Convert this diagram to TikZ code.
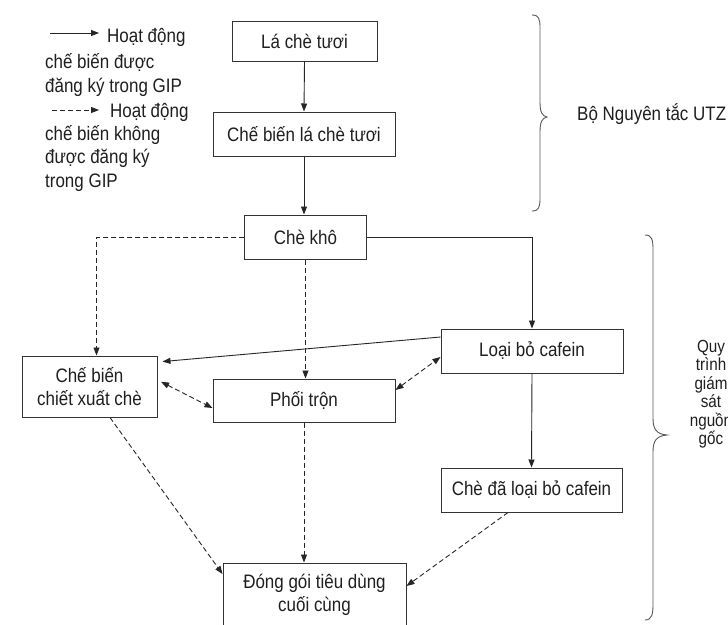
\documentclass[tikz,border=0pt]{standalone}
\usepackage{fontspec}
\setmainfont{Liberation Sans}[FakeStretch=0.87]
\usetikzlibrary{arrows.meta}
\begin{document}
\begin{tikzpicture}[x=1pt,y=-1pt,
  txt/.style={inner sep=0pt, text=black!88, font=\fontsize{19.5}{23.3}\selectfont},
  box/.style={txt, draw=black!80, line width=1pt, fill=white, align=center},
  arr/.style={line width=0.9pt, draw=black!85, -{Triangle[length=8pt,width=6pt]}},
  dsh/.style={arr, dash pattern=on 5pt off 3pt},
  dbl/.style={dsh, {Triangle[length=8pt,width=6pt]}-{Triangle[length=8pt,width=6pt]}},
  brace/.style={draw=black!65, line width=0.9pt}]
\useasboundingbox (0,0) rectangle (728,624);
\fill[white] (0,0) rectangle (728,624);
\clip (0,0) rectangle (728,624);

% boxes
\node[box, minimum width=145pt, minimum height=40pt] (la) at (304.5,41) {Lá chè tươi};
\node[box, minimum width=182pt, minimum height=44pt] (cbl) at (304,134) {Chế biến lá chè tươi};
\node[box, minimum width=122pt, minimum height=44pt] (ck) at (305.5,237) {Chè khô};
\node[box, minimum width=182pt, minimum height=44pt] (lb) at (532,351) {Loại bỏ cafein};
\node[box, minimum width=135pt, minimum height=61pt] (cbx) at (89.5,386.5) {Chế biến\\chiết xuất chè};
\node[box, minimum width=182pt, minimum height=43pt] (pt) at (304,400.5) {Phối trộn};
\node[box, minimum width=181pt, minimum height=44pt] (cd) at (531.5,490) {Chè đã loại bỏ cafein};
\node[box, minimum width=183pt, minimum height=64pt] (dg) at (314.5,595) {Đóng gói tiêu dùng\\cuối cùng};

% connectors
\draw[arr] (la.south) -- (cbl.north);
\draw[arr] (cbl.south) -- (cbl.south |- ck.north);
\draw[dsh] (ck.west) -| ([xshift=7pt]cbx.north);
\draw[arr] (ck.east) -| (lb.north);
\draw[dsh] (ck.south) -- (ck.south |- pt.north);
\draw[arr, shorten >=5pt] ([yshift=14pt]lb.west) -- ([yshift=24.5pt]cbx.east);
\draw[dbl] ([yshift=10.5pt]pt.east) -- ([yshift=-6pt]lb.west);
\draw[dbl, shorten <=4pt] ([yshift=6.5pt]cbx.east) -- ([yshift=-7.5pt]pt.west);
\draw[dsh] ([xshift=20.5pt]cbx.south) -- ([yshift=21pt]dg.west);
\draw[dsh] ([xshift=-23.5pt]cd.south) -- ([yshift=9pt]dg.east);
\draw[arr] (lb.south) -- (cd.north);
\draw[dsh] (pt.south) -- (pt.south |- dg.north);

% legend
\coordinate (s1) at (50,33);
\coordinate (s2) at (99,33);
\coordinate (d1) at (52,110);
\coordinate (d2) at (99,110);
\draw[arr] (s1) -- (s2);
\draw[dsh] (d1) -- (d2);
\node[txt, anchor=base west] (l1) at (107,42) {Hoạt động};
\node[txt, anchor=base west] (l2) at (45,68) {chế biến được};
\node[txt, anchor=base west] (l3) at (45,92) {đăng ký trong GIP};
\node[txt, anchor=base west] (l4) at (110,117) {Hoạt động};
\node[txt, anchor=base west] (l5) at (45,140) {chế biến không};
\node[txt, anchor=base west] (l6) at (45,163.5) {được đăng ký};
\node[txt, anchor=base west] (l7) at (45,187) {trong GIP};

% braces
\draw[brace] (532,15) .. controls (539,15) and (540,19) .. (540,28) -- (540,102)
  .. controls (540,112) and (542,116) .. (547,117)
  .. controls (542,118) and (540,122) .. (540,132) -- (540,198)
  .. controls (540,207) and (539,211) .. (532,211);
\node[txt, anchor=west] (utz) at (577,114) {Bộ Nguyên tắc UTZ};

\draw[brace] (645,235) .. controls (652,235) and (653,240) .. (653,250) -- (653,418)
  .. controls (653,429) and (656,434) .. (667,435)
  .. controls (656,436) and (653,441) .. (653,452) -- (653,604)
  .. controls (653,614) and (652,620) .. (645,620);
\node[txt, align=center, font=\fontsize{17.5}{18.5}\selectfont] (qt) at (711,394) {Quy\\trình\\giám\\sát\\nguồn\\gốc};
\end{tikzpicture}
\end{document}
